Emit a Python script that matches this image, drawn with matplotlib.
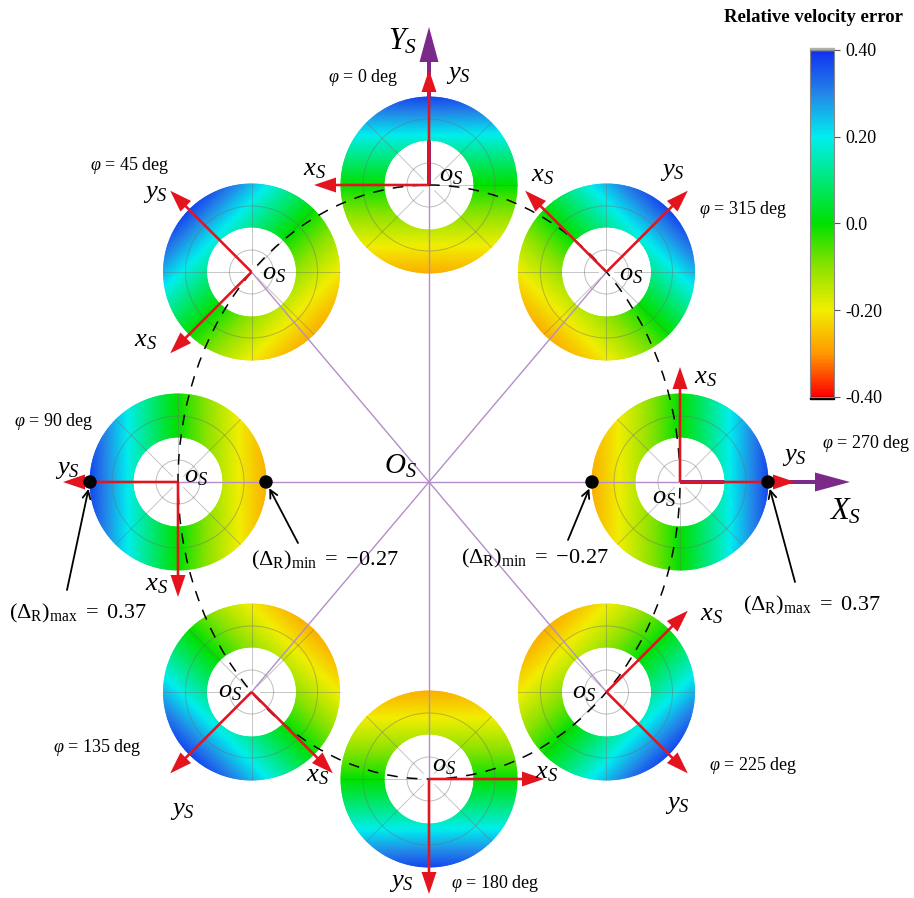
import numpy as np
import matplotlib
matplotlib.use("Agg")
import matplotlib.pyplot as plt
from matplotlib.colors import LinearSegmentedColormap, Normalize
from matplotlib.patches import Ellipse, FancyArrow, Circle, Rectangle
from matplotlib.cm import ScalarMappable

plt.rcParams['font.family'] = ['Liberation Serif', 'DejaVu Serif']
plt.rcParams['mathtext.fontset'] = 'custom'
plt.rcParams['mathtext.rm'] = 'Liberation Serif'
plt.rcParams['mathtext.it'] = 'Liberation Serif:italic'
plt.rcParams['mathtext.bf'] = 'Liberation Serif:bold'

# ---------------- data ----------------
phi_deg = [0, 45, 90, 135, 180, 225, 270, 315]
delta_max = 0.37     # error at the outer edge (far from O_S)
delta_mid = 0.0      # error along the disk centre line
delta_min = -0.27    # error at the inner edge (near O_S)
cbar_ticks = [-0.40, -0.20, 0.0, 0.20, 0.40]
cbar_ticklabels = ['-0.40', '-0.20', '0.0', '0.20', '0.40']
cbar_title = 'Relative velocity error'

# colour scale anchors (value, colour)
cmap_values = [-0.40, -0.30, -0.20, -0.10, 0.00, 0.08, 0.20, 0.30, 0.40]
cmap_colors = ['#ff0000', '#ff9900', '#f2ee00', '#8ce200', '#00e000',
               '#00e660', '#00eeee', '#2486e8', '#1030f0']

# ---------------- layout (pixel space) ----------------
W, H = 914, 898
O = np.array([429.0, 482.0])
a_ell, b_ell = 251.0, 297.0
r_in, r_out = 45.0, 88.0
arrow_len = 115.0

vmin, vmax = -0.40, 0.40
norm = Normalize(vmin, vmax)
pos = [(v - vmin) / (vmax - vmin) for v in cmap_values]
cmap = LinearSegmentedColormap.from_list('rv', list(zip(pos, cmap_colors)))

fig = plt.figure(figsize=(W / 100, H / 100), dpi=100)
ax = fig.add_axes([0, 0, 1, 1])
ax.set_xlim(0, W)
ax.set_ylim(H, 0)
ax.axis('off')

red = '#e4141e'
purple_big = '#7b2a8a'
purple_thin = '#b48ec6'

# label offsets relative to each disk centre: (y_s, x_s, o_s)
label_off = {
    0:   ((29, -110), (-115, -15), (22, -9)),
    45:  ((-96, -78), (-106, 69), (23, 2)),
    90:  ((-111, -12), (-22, 103), (18, -5)),
    135: ((-69, 119), (66, 84), (-21, 0)),
    180: ((-28, 104), (117, -6), (15, -13)),
    225: ((71, 113), (105, -77), (-22, 1)),
    270: ((114, -25), (25, -104), (-16, 16)),
    315: ((66, -100), (-64, -96), (25, 3)),
}
phi_text_pos = {0: (363, 78), 45: (130, 166), 90: (54, 422), 135: (97, 748),
                180: (495, 884), 225: (753, 766), 270: (866, 443), 315: (743, 209)}

centers = {}
for p in phi_deg:
    t = np.deg2rad(p)
    c = O + np.array([-a_ell * np.sin(t), -b_ell * np.cos(t)])
    centers[p] = c

# big global axes (drawn underneath the disks)
top_c = centers[0]
ax.add_patch(FancyArrow(top_c[0], top_c[1], 0, 27 - top_c[1], width=4,
                        head_width=19, head_length=35, length_includes_head=True,
                        color=purple_big, lw=0, zorder=1))
right_c = centers[270]
ax.add_patch(FancyArrow(right_c[0], right_c[1], 850 - right_c[0], 0, width=4,
                        head_width=19, head_length=35, length_includes_head=True,
                        color=purple_big, lw=0, zorder=1))

r = np.linspace(r_in, r_out, 24)
th = np.linspace(0, 2 * np.pi, 241)
R, T = np.meshgrid(r, th)

# quadratic through the edge/centre values along the radial direction
c1 = (delta_max - delta_min) / 2
c2 = (delta_max + delta_min - 2 * delta_mid) / 2

for p in phi_deg:
    t = np.deg2rad(p)
    cx, cy = centers[p]
    ey = np.array([-np.sin(t), -np.cos(t)])   # y_s: radial, outward
    ex = np.array([-np.cos(t), np.sin(t)])    # x_s
    X = cx + R * np.cos(T)
    Y = cy + R * np.sin(T)
    u = ((X - cx) * ey[0] + (Y - cy) * ey[1]) / r_out
    val = delta_mid + c1 * u + c2 * u ** 2
    ax.pcolormesh(X, Y, val, shading='gouraud', cmap=cmap, norm=norm, zorder=2)

    # polar grid
    for rr in (22, 66):
        ax.add_patch(Circle((cx, cy), rr, fill=False, ec='#6e6e6e', lw=0.7,
                            alpha=0.45, zorder=3))
    for k in range(8):
        ang = k * np.pi / 4
        ax.plot([cx + 8 * np.cos(ang), cx + r_out * np.cos(ang)],
                [cy + 8 * np.sin(ang), cy + r_out * np.sin(ang)],
                color='#6e6e6e', lw=0.7, alpha=0.4, zorder=3)

    # thin line to the global origin
    ax.plot([O[0], cx], [O[1], cy], color=purple_thin, lw=1.0, zorder=4)

    # local axes
    for e in (ey, ex):
        ax.add_patch(FancyArrow(cx, cy, e[0] * arrow_len, e[1] * arrow_len,
                                width=2.6, head_width=15, head_length=22,
                                length_includes_head=True, color=red, lw=0,
                                zorder=6))
    oy, ox, oo = label_off[p]
    ax.text(cx + oy[0], cy + oy[1], r'$y_S$', fontsize=19, ha='center',
            va='center', zorder=8)
    ax.text(cx + ox[0], cy + ox[1], r'$x_S$', fontsize=19, ha='center',
            va='center', zorder=8)
    ax.text(cx + oo[0], cy + oo[1], r'$o_S$', fontsize=19, ha='center',
            va='center', zorder=8)
    tx, ty = phi_text_pos[p]
    ax.text(tx, ty, r'$\varphi$ = %d deg' % p, fontsize=13, ha='center',
            va='center', zorder=8)

# dashed pitch curve through the disk centres
ax.add_patch(Ellipse(O, 2 * a_ell, 2 * b_ell, fill=False, ec='black', lw=1.1,
                     ls=(0, (7, 6)), zorder=5))

# extreme-value markers on the horizontal disks
dots = []
for p in (90, 270):
    t = np.deg2rad(p)
    c = centers[p]
    ey = np.array([-np.sin(t), -np.cos(t)])
    far = c + ey * r_out
    near = c - ey * r_out
    for q in (far, near):
        ax.add_patch(Circle(q, 6, color='black', zorder=7))
    dots.append((far, near))

(far_l, near_l), (far_r, near_r) = dots
ann = [
    (far_l, (67, 590), (78, 618), r'$(\Delta_{\mathrm{R}})_{\mathrm{max}}\ =\ 0.37$'),
    (near_l, (298, 543), (325, 565), r'$(\Delta_{\mathrm{R}})_{\mathrm{min}}\ =\ {-0.27}$'),
    (near_r, (568, 540), (535, 563), r'$(\Delta_{\mathrm{R}})_{\mathrm{min}}\ =\ {-0.27}$'),
    (far_r, (795, 582), (812, 610), r'$(\Delta_{\mathrm{R}})_{\mathrm{max}}\ =\ 0.37$'),
]
for dot, start, lab, txt in ann:
    d = np.array(dot) - np.array(start)
    d = d / np.hypot(*d)
    tip = np.array(dot) - d * 7
    ax.annotate('', xy=tip, xytext=start,
                arrowprops=dict(arrowstyle='->', color='black', lw=1.3,
                                shrinkA=0, shrinkB=0, mutation_scale=14),
                zorder=7)
    ax.text(lab[0], lab[1], txt, fontsize=16, ha='center', va='baseline',
            zorder=8)

ax.text(400, 466, r'$O_S$', fontsize=21, ha='center', va='center', zorder=8)
ax.text(403, 42, r'$Y_S$', fontsize=22, ha='center', va='center', zorder=8)
ax.text(845, 512, r'$X_S$', fontsize=22, ha='center', va='center', zorder=8)

# colour bar
cax = fig.add_axes([810 / W, 1 - 397 / H, 24 / W, 347 / H])
sm = ScalarMappable(norm=norm, cmap=cmap)
cb = fig.colorbar(sm, cax=cax, ticks=cbar_ticks)
cb.ax.set_yticklabels(cbar_ticklabels)
cb.ax.tick_params(labelsize=13, length=4, width=0.8, color='#555555', pad=4)
cb.outline.set_edgecolor('#888888')
cb.outline.set_linewidth(0.8)
cax.add_patch(Rectangle((0, 1.0), 1, 0.006, transform=cax.transAxes,
                        color='#b0b0b0', clip_on=False))
cax.add_patch(Rectangle((0, -0.006), 1, 0.006, transform=cax.transAxes,
                        color='black', clip_on=False))
fig.text(813 / W, 1 - 18 / H, cbar_title, fontsize=13.5, fontweight='bold',
         ha='center', va='center')

fig.savefig('out.png', dpi=100)
